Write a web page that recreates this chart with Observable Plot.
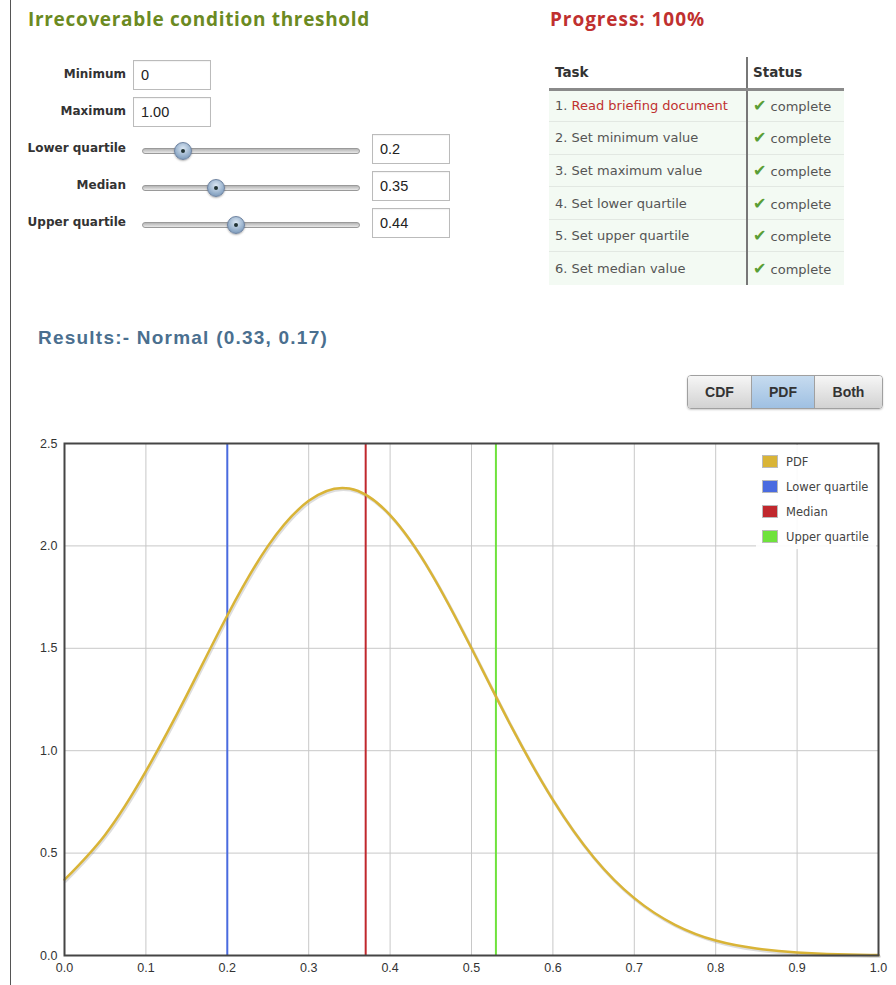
<!DOCTYPE html>
<html><head><meta charset="utf-8">
<script src="https://cdn.jsdelivr.net/npm/d3@7"></script>
<script src="https://cdn.jsdelivr.net/npm/@observablehq/plot@0.6"></script>
<style>
html,body{margin:0;padding:0;background:#fff;}
body{width:896px;height:985px;position:relative;overflow:hidden;font-family:"DejaVu Sans",sans-serif;}
.abs{position:absolute;}
.vline{left:10px;top:0;width:1px;height:985px;background:#555;}
.h1{font-family:"Open Sans","DejaVu Sans",sans-serif;font-weight:700;font-size:19px;white-space:nowrap;line-height:1;}
.lbl{font-family:"DejaVu Sans",sans-serif;font-weight:700;font-size:12px;color:#333;text-align:right;width:100px;white-space:nowrap;}
.box{border:1px solid #bbb;background:#fff;box-sizing:border-box;font-family:"Liberation Sans",Arial,sans-serif;font-size:14.5px;color:#222;padding-left:7px;display:flex;align-items:center;box-shadow:inset 0 1px 1px rgba(0,0,0,0.05);}
.track{height:6px;border-radius:3px;background:linear-gradient(#b5b5b5,#e8e8e8);border:1px solid #9a9a9a;box-sizing:border-box;}
.thumb{width:18px;height:18px;border-radius:50%;background:radial-gradient(circle at 50% 35%,#dce8f4,#8aa6c4 70%,#6e8aa8);border:1px solid #6d82a0;box-sizing:border-box;box-shadow:0 1px 2px rgba(0,0,0,0.3);}
.thumb::after{content:"";position:absolute;left:6px;top:6px;width:4px;height:4px;border-radius:50%;background:#233;}
table.t{border-collapse:collapse;table-layout:fixed;width:295px;font-family:"DejaVu Sans",sans-serif;font-size:13px;color:#555;}
.btns{display:flex;border-radius:4px;overflow:hidden;border:1px solid #a0a0a0;box-shadow:0 1px 2px rgba(0,0,0,0.2);}
.btn{font-family:"Liberation Sans Narrow","Liberation Sans",sans-serif;font-weight:700;font-size:14px;color:#333;display:flex;align-items:center;justify-content:center;background:linear-gradient(#f6f6f6,#d2d2d2);height:32px;box-sizing:border-box;}
.btn.sel{background:linear-gradient(#c6dbef,#9fc0e2);}
.legend{font-family:"DejaVu Sans",sans-serif;font-size:11.5px;color:#444;}
.sw{position:absolute;width:16px;height:13px;box-sizing:border-box;border:1px solid #bbb;}
</style>
</head><body>
<div class="abs vline"></div>
<div id="title" class="abs h1" style="left:28px;top:10px;color:#6b8a22;">Irrecoverable condition threshold</div>
<div id="prog" class="abs h1" style="left:550px;top:10px;color:#c0302f;">Progress: 100%</div>
<div id="form"></div>
<div id="table" class="abs" style="left:549px;top:57px;"></div>
<div id="results" class="abs h1" style="left:38px;top:328px;color:#4a6f8f;font-family:'Liberation Sans Narrow','Liberation Sans',sans-serif;font-size:19px;">Results:- Normal (0.33, 0.17)</div>
<div class="abs btns" style="left:687px;top:375px;">
  <div class="btn" style="width:64px;border-right:1px solid #a0a0a0;">CDF</div>
  <div class="btn sel" style="width:63px;border-right:1px solid #a0a0a0;">PDF</div>
  <div class="btn" style="width:67px;">Both</div>
</div>
<div id="chart" class="abs" style="left:14px;top:430px;"></div>
<div id="legend" class="abs legend" style="left:756px;top:445px;width:120px;height:104px;background:rgba(255,255,255,0.9);"></div>
<script>
// ---- data ----
const pdfX = [0, 0.05, 0.1, 0.15, 0.2, 0.25, 0.3, 0.35, 0.4, 0.45, 0.5, 0.55, 0.6, 0.65, 0.7, 0.75, 0.8, 0.85, 0.9, 0.95, 1.0];
const pdfY = [0.37, 0.59, 0.90, 1.27, 1.66, 2.00, 2.22, 2.28, 2.15, 1.87, 1.50, 1.11, 0.76, 0.48, 0.28, 0.15, 0.073, 0.034, 0.015, 0.006, 0.002];
const quartileNames = ["Lower quartile", "Median", "Upper quartile"];
const quartileValues = [0.2, 0.37, 0.53];
const quartileColors = ["#4a6be0", "#c0282d", "#6fe23c"];
const pdfColor = "#d9b437";
const xTicks = [0, 0.1, 0.2, 0.3, 0.4, 0.5, 0.6, 0.7, 0.8, 0.9, 1.0];
const yTicks = [0, 0.5, 1.0, 1.5, 2.0, 2.5];
const formFields = ["Minimum", "Maximum"];
const formValues = ["0", "1.00"];
const sliderNames = ["Lower quartile", "Median", "Upper quartile"];
const sliderValues = ["0.2", "0.35", "0.44"];
const sliderPos = [0.19, 0.34, 0.43];
const tasks = ["Read briefing document", "Set minimum value", "Set maximum value", "Set lower quartile", "Set upper quartile", "Set median value"];
const statuses = ["complete", "complete", "complete", "complete", "complete", "complete"];

// ---- form ----
const form = document.getElementById("form");
let html = "";
formFields.forEach((f, i) => {
  const top = 60 + i * 37;
  html += `<div class="abs lbl" style="left:26px;top:${top + 7}px;">${f}</div>`;
  html += `<div class="abs box" style="left:133px;top:${top}px;width:78px;height:30px;">${formValues[i]}</div>`;
});
sliderNames.forEach((f, i) => {
  const top = 134 + i * 37;
  html += `<div class="abs lbl" style="left:26px;top:${top + 7}px;">${f}</div>`;
  html += `<div class="abs track" style="left:142px;top:${top + 14}px;width:218px;"></div>`;
  const cx = 142 + sliderPos[i] * 218;
  html += `<div class="abs thumb" style="left:${cx - 9}px;top:${top + 8}px;"></div>`;
  html += `<div class="abs box" style="left:372px;top:${top}px;width:78px;height:30px;">${sliderValues[i]}</div>`;
});
form.innerHTML = html;

// ---- table ----
let th = `<table class="t"><colgroup><col style="width:198px"><col style="width:97px"></colgroup><tr style="height:32px;background:#fff;">
<th style="text-align:left;padding:0 0 0 6px;font-weight:700;font-size:13.5px;color:#333;border-bottom:3px solid #8a8a8a;border-right:2px solid #777;">Task</th>
<th style="text-align:left;padding:0 0 0 5px;font-weight:700;font-size:13.5px;color:#333;border-bottom:3px solid #8a8a8a;">Status</th></tr>`;
tasks.forEach((t, i) => {
  const name = i === 0 ? `<span style="color:#c0302f">${t}</span>` : t;
  const bb = i < 5 ? '#e2e8e2' : '#f3faf3';
  th += `<tr style="height:32.6px;background:#f3faf3;">
<td style="padding:0 0 0 6px;border-right:2px solid #777;border-bottom:1px solid ${bb};white-space:nowrap;overflow:hidden;">${i + 1}. ${name}</td>
<td style="padding:0 0 0 5px;border-bottom:1px solid ${bb};white-space:nowrap;overflow:hidden;"><span style="color:#5a9e35;font-size:16px;">✔</span> ${statuses[i]}</td></tr>`;
});
th += "</table>";
document.getElementById("table").innerHTML = th;

// ---- chart ----
const pdfData = pdfX.map((x, i) => ({x, y: pdfY[i]}));
const qData = quartileNames.map((n, i) => ({name: n, x: quartileValues[i], color: quartileColors[i]}));
const tickFont = "'Liberation Sans Narrow','Liberation Sans',sans-serif";
const chart = Plot.plot({
  width: 876, height: 555,
  marginLeft: 50, marginRight: 12, marginTop: 13, marginBottom: 30,
  style: {fontFamily: tickFont, fontSize: "12.5px", color: "#333", background: "transparent"},
  x: {domain: [0, 1], label: null},
  y: {domain: [0, 2.5], label: null},
  marks: [
    Plot.gridX(xTicks, {stroke: "#c8c8c8", strokeOpacity: 1}),
    Plot.gridY(yTicks, {stroke: "#c8c8c8", strokeOpacity: 1}),
    Plot.ruleX(qData, {x: "x", stroke: "color", strokeWidth: 2}),
    Plot.line(pdfData, {x: "x", y: "y", curve: "natural", stroke: "#777", strokeOpacity: 0.25, strokeWidth: 3, dy: 1.5, dx: 1}),
    Plot.line(pdfData, {x: "x", y: "y", curve: "natural", stroke: pdfColor, strokeWidth: 2.5}),
    Plot.frame({stroke: "#454545", strokeWidth: 2}),
    Plot.axisX(xTicks, {tickFormat: d3.format(".1f"), tickSize: 0, tickPadding: 8, fill: "#333", fontSize: 12.5, fontFamily: tickFont}),
    Plot.axisY(yTicks, {tickFormat: d3.format(".1f"), tickSize: 0, tickPadding: 7, fill: "#333", fontSize: 12.5, fontFamily: tickFont})
  ]
});
document.getElementById("chart").appendChild(chart);

// ---- legend ----
const legendItems = [{name: "PDF", color: pdfColor}].concat(qData);
document.getElementById("legend").innerHTML = legendItems.map((d, i) =>
  `<div class="sw" style="left:6px;top:${10 + i * 25}px;background:${d.color};"></div>` +
  `<div class="abs" style="left:30px;top:${10 + i * 25}px;white-space:nowrap;">${d.name}</div>`).join("");

// fit heading widths
function fit(id, w) {
  const el = document.getElementById(id);
  const cur = el.getBoundingClientRect().width;
  const n = el.textContent.length;
  el.style.letterSpacing = ((w - cur) / n) + "px";
}
fit("title", 342);
fit("prog", 155);
fit("results", 290);
</script>
</body></html>
